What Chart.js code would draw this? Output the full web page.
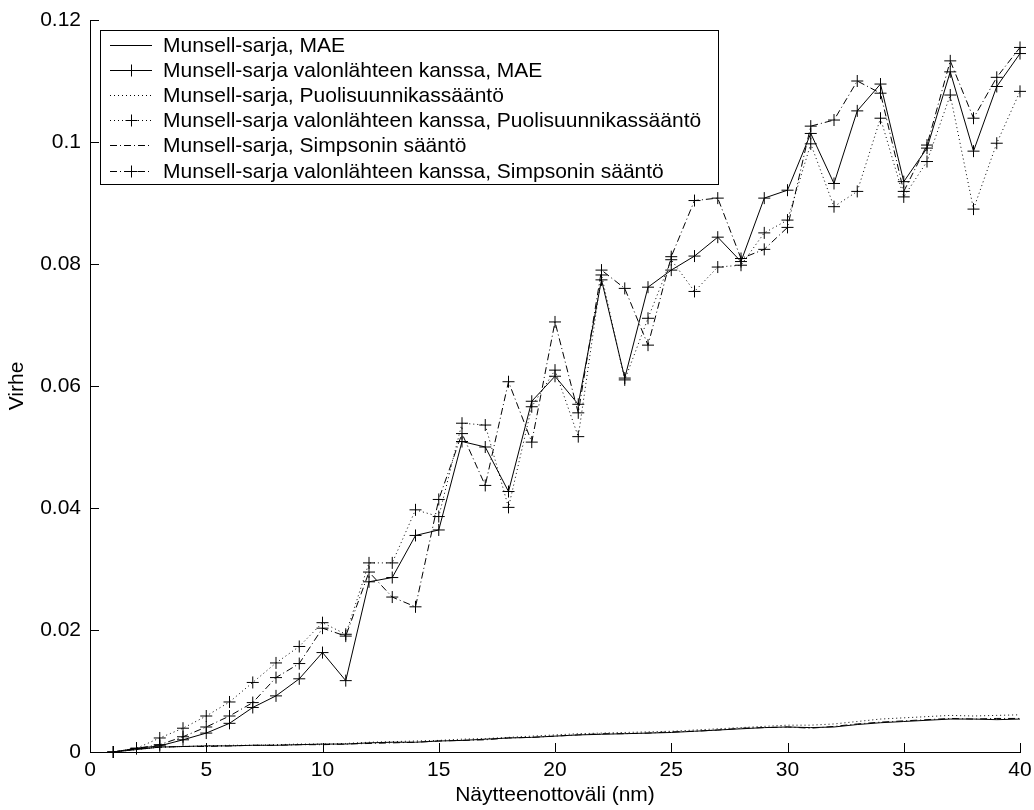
<!DOCTYPE html>
<html>
<head>
<meta charset="utf-8">
<title>Virhe vs. näytteenottoväli</title>
<script src="https://cdn.jsdelivr.net/npm/chart.js@4/dist/chart.umd.min.js"></script>
<style>
  html, body { margin: 0; padding: 0; background: #fff; }
  #wrap { width: 1034px; height: 810px; }
</style>
</head>
<body>
<div id="wrap"><canvas id="chart" width="1034" height="810"></canvas></div>
<script>
// näytteenottoväli (nm)
const sampleNm = [1, 2, 3, 4, 5, 6, 7, 8, 9, 10, 11, 12, 13, 14, 15, 16, 17, 18, 19, 20,
  21, 22, 23, 24, 25, 26, 27, 28, 29, 30, 31, 32, 33, 34, 35, 36, 37, 38, 39, 40];

// Munsell-sarja (ilman valonlähdettä)
const maeErr = [0, 0.0004, 0.0008, 0.0009, 0.0010, 0.0010, 0.0011, 0.0011, 0.0012, 0.0013,
  0.0013, 0.0015, 0.0016, 0.0016, 0.0018, 0.0019, 0.0021, 0.0023, 0.0024, 0.0026,
  0.0028, 0.0029, 0.0030, 0.0031, 0.0032, 0.0034, 0.0036, 0.0038, 0.0040, 0.0041,
  0.0040, 0.0041, 0.0045, 0.0048, 0.0050, 0.0052, 0.0054, 0.0054, 0.0053, 0.0054];
const trapErr = [0, 0.0004, 0.0008, 0.0009, 0.0010, 0.0011, 0.0011, 0.0012, 0.0013, 0.0013,
  0.0014, 0.0016, 0.0017, 0.0018, 0.0019, 0.0021, 0.0022, 0.0024, 0.0026, 0.0028,
  0.0030, 0.0031, 0.0032, 0.0033, 0.0034, 0.0036, 0.0038, 0.0040, 0.0042, 0.0044,
  0.0044, 0.0046, 0.0050, 0.0054, 0.0056, 0.0058, 0.0060, 0.0059, 0.0060, 0.0061];
const simpErr = [0, 0.0005, 0.0008, 0.0009, 0.0009, 0.0010, 0.0011, 0.0011, 0.0012, 0.0012,
  0.0013, 0.0014, 0.0015, 0.0016, 0.0018, 0.0019, 0.0020, 0.0023, 0.0024, 0.0026,
  0.0028, 0.0030, 0.0030, 0.0031, 0.0033, 0.0034, 0.0036, 0.0039, 0.0040, 0.0041,
  0.0039, 0.0042, 0.0046, 0.0049, 0.0051, 0.0053, 0.0055, 0.0054, 0.0055, 0.0055];

// Munsell-sarja valonlähteen kanssa
const maeLightErr = [0, 0.0006, 0.0010, 0.0020, 0.0031, 0.0047, 0.0073, 0.0092, 0.0120, 0.0163,
  0.0117, 0.0279, 0.0286, 0.0355, 0.0364, 0.0509, 0.0500, 0.0427, 0.0575, 0.0616,
  0.0570, 0.0774, 0.0613, 0.0762, 0.0790, 0.0813, 0.0844, 0.0804, 0.0908, 0.0921,
  0.1014, 0.0932, 0.1051, 0.1095, 0.0935, 0.0990, 0.1115, 0.0985, 0.1091, 0.1145];
const trapLightErr = [0, 0.0006, 0.0023, 0.0039, 0.0059, 0.0082, 0.0114, 0.0146, 0.0173, 0.0212,
  0.0193, 0.0310, 0.0310, 0.0397, 0.0386, 0.0539, 0.0536, 0.0401, 0.0566, 0.0626,
  0.0517, 0.0782, 0.0610, 0.0711, 0.0807, 0.0755, 0.0795, 0.0798, 0.0851, 0.0872,
  0.0997, 0.0894, 0.0919, 0.1039, 0.0910, 0.0968, 0.1077, 0.0890, 0.0998, 0.1083];
const simpLightErr = [0, 0.0006, 0.0012, 0.0025, 0.0041, 0.0059, 0.0081, 0.0122, 0.0145, 0.0203,
  0.0190, 0.0295, 0.0254, 0.0238, 0.0414, 0.0522, 0.0437, 0.0607, 0.0508, 0.0705,
  0.0556, 0.0790, 0.0760, 0.0667, 0.0812, 0.0904, 0.0908, 0.0809, 0.0824, 0.0860,
  0.1026, 0.1036, 0.1100, 0.1080, 0.0919, 0.0995, 0.1133, 0.1039, 0.1106, 0.1155];

const seriesNames = [
  'Munsell-sarja, MAE',
  'Munsell-sarja valonlähteen kanssa, MAE',
  'Munsell-sarja, Puolisuunnikassääntö',
  'Munsell-sarja valonlähteen kanssa, Puolisuunnikassääntö',
  'Munsell-sarja, Simpsonin sääntö',
  'Munsell-sarja valonlähteen kanssa, Simpsonin sääntö'
];

const xTicks = [0, 5, 10, 15, 20, 25, 30, 35, 40];
const yTicks = [0, 0.02, 0.04, 0.06, 0.08, 0.1, 0.12];

const FONT = "'Liberation Sans', Arial, Helvetica, sans-serif";
const DOT = [1, 3];
const DASHDOT = [7, 3, 1, 3];

function pts(arr) {
  return sampleNm.map((x, i) => ({ x: x, y: arr[i] }));
}

function series(label, arr, dash, marker) {
  return {
    label: label,
    data: pts(arr),
    borderColor: '#000',
    backgroundColor: '#000',
    borderWidth: 1,
    borderDash: dash,
    pointStyle: 'cross',
    pointRadius: marker ? 6 : 0,
    pointBorderWidth: 1,
    pointBorderColor: '#000',
    pointHoverRadius: marker ? 6 : 0,
    tension: 0,
    fill: false,
    clip: false
  };
}

// sisäänpäin osoittavat tikit (MATLAB-tyyli)
const innerTicks = {
  id: 'innerTicks',
  afterDraw(chart) {
    const { ctx, chartArea: a, scales: { x, y } } = chart;
    const len = 9;
    ctx.save();
    ctx.strokeStyle = '#000';
    ctx.lineWidth = 1;
    ctx.beginPath();
    xTicks.forEach(v => {
      const px = Math.round(x.getPixelForValue(v)) + 0.5;
      ctx.moveTo(px, a.bottom);
      ctx.lineTo(px, a.bottom - len);
    });
    yTicks.forEach(v => {
      const py = Math.round(y.getPixelForValue(v)) + 0.5;
      ctx.moveTo(a.left, py);
      ctx.lineTo(a.left + len, py);
    });
    ctx.stroke();
    ctx.restore();
  }
};

// selite laatikossa vasemmassa yläkulmassa
const boxLegend = {
  id: 'boxLegend',
  afterDraw(chart) {
    const ctx = chart.ctx;
    const bx = 100.5, by = 30.5, bw = 618, bh = 154;
    ctx.save();
    ctx.fillStyle = '#fff';
    ctx.fillRect(bx, by, bw, bh);
    ctx.strokeStyle = '#000';
    ctx.lineWidth = 1;
    ctx.setLineDash([]);
    ctx.strokeRect(bx, by, bw, bh);
    ctx.font = '21px ' + FONT;
    ctx.textBaseline = 'middle';
    ctx.fillStyle = '#000';
    chart.data.datasets.forEach((ds, i) => {
      const ly = Math.round(by + 14 + i * 25.2) + 0.5;
      ctx.setLineDash(ds.borderDash || []);
      ctx.beginPath();
      ctx.moveTo(110, ly);
      ctx.lineTo(152, ly);
      ctx.stroke();
      ctx.setLineDash([]);
      if (ds.pointRadius > 0) {
        ctx.beginPath();
        ctx.moveTo(131.5, ly - 6);
        ctx.lineTo(131.5, ly + 6);
        ctx.moveTo(125.5, ly);
        ctx.lineTo(137.5, ly);
        ctx.stroke();
      }
      ctx.fillText(ds.label, 163, ly + 1);
    });
    ctx.restore();
  }
};

Chart.defaults.font.family = FONT;
Chart.defaults.font.size = 21;
Chart.defaults.color = '#000';

new Chart(document.getElementById('chart'), {
  type: 'line',
  data: {
    datasets: [
      series(seriesNames[0], maeErr, [], false),
      series(seriesNames[1], maeLightErr, [], true),
      series(seriesNames[2], trapErr, DOT, false),
      series(seriesNames[3], trapLightErr, DOT, true),
      series(seriesNames[4], simpErr, DASHDOT, false),
      series(seriesNames[5], simpLightErr, DASHDOT, true)
    ]
  },
  options: {
    responsive: false,
    animation: false,
    devicePixelRatio: 1,
    layout: { padding: { left: 0, top: 20, right: 14, bottom: 0 } },
    plugins: {
      legend: { display: false },
      tooltip: { enabled: false }
    },
    scales: {
      x: {
        type: 'linear',
        min: 0,
        max: 40,
        grid: { display: false, drawTicks: false },
        border: { display: true, color: '#000', width: 1 },
        ticks: { stepSize: 5, padding: 6, color: '#000', font: { size: 21 }, maxRotation: 0 },
        title: {
          display: true,
          text: 'Näytteenottoväli (nm)',
          color: '#000',
          font: { size: 21 },
          padding: { top: 0, bottom: 2 }
        },
        afterFit(s) {
          s.height = 58;
          s.paddingRight = 0;
          s.paddingLeft = 0;
        }
      },
      y: {
        type: 'linear',
        min: 0,
        max: 0.12,
        grid: { display: false, drawTicks: false },
        border: { display: true, color: '#000', width: 1 },
        ticks: {
          stepSize: 0.02,
          padding: 9,
          color: '#000',
          font: { size: 21 },
          callback: v => String(+v.toFixed(2))
        },
        title: {
          display: true,
          text: 'Virhe',
          color: '#000',
          font: { size: 21 },
          padding: { top: 5, bottom: 0 }
        },
        afterFit(s) {
          s.width = 90;
          s.paddingTop = 0;
          s.paddingBottom = 0;
        }
      }
    }
  },
  plugins: [innerTicks, boxLegend]
});
</script>
</body>
</html>
